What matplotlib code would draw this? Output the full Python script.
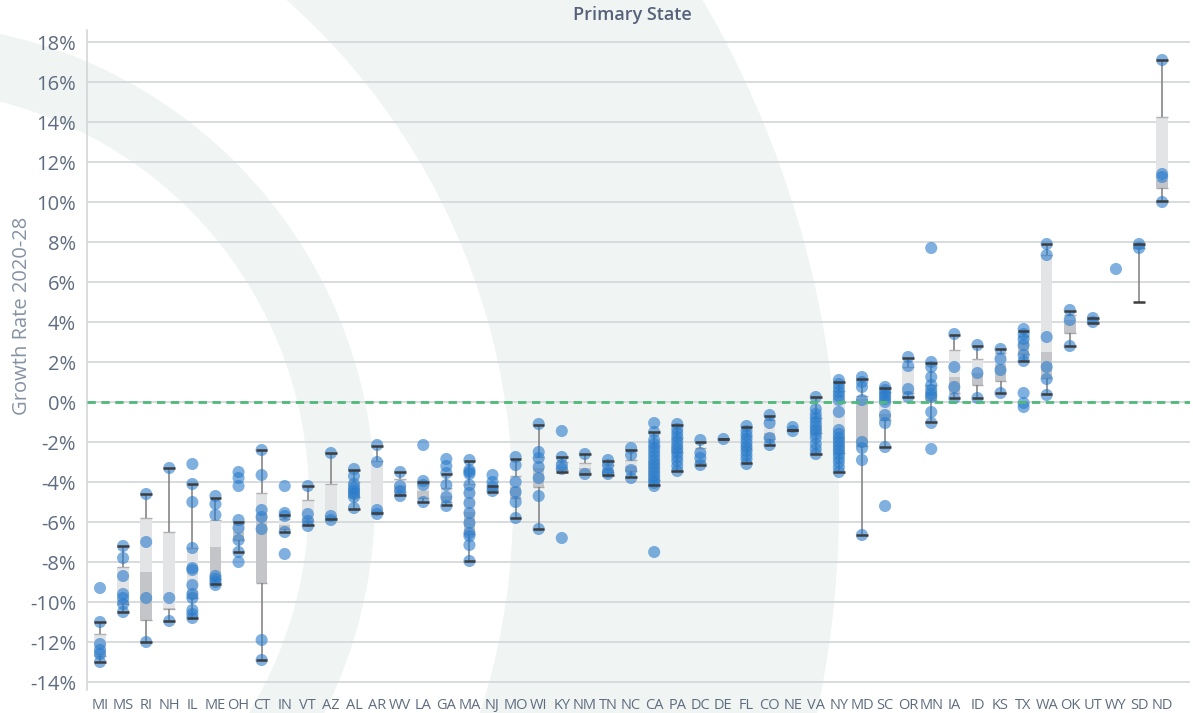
import numpy as np
import matplotlib
matplotlib.use("Agg")
import matplotlib.pyplot as plt
from matplotlib.patches import Wedge
from matplotlib.transforms import IdentityTransform
from matplotlib.ticker import FuncFormatter

plt.rcParams['font.family'] = ['Open Sans', 'DejaVu Sans']

states = ["MI", "MS", "RI", "NH", "IL", "ME", "OH", "CT", "IN", "VT", "AZ", "AL", "AR", "WV",
          "LA", "GA", "MA", "NJ", "MO", "WI", "KY", "NM", "TN", "NC", "CA", "PA", "DC", "DE",
          "FL", "CO", "NE", "VA", "NY", "MD", "SC", "OR", "MN", "IA", "ID", "KS", "TX", "WA",
          "OK", "UT", "WY", "SD", "ND"]

# individual growth-rate observations (%) per state
points = [
    [-9.3, -11.0, -12.1, -12.4, -12.6, -13.0],                      # MI
    [-7.2, -7.8, -8.7, -9.6, -9.8, -10.1, -10.5],                   # MS
    [-4.6, -7.0, -9.8, -12.0],                                      # RI
    [-3.3, -9.8, -10.95],                                           # NH
    [-3.1, -4.1, -5.0, -7.3, -8.3, -8.4, -9.15, -9.6, -9.8, -10.4, -10.6, -10.8],  # IL
    [-4.7, -5.1, -5.65, -8.7, -8.85, -9.0, -9.15],                  # ME
    [-3.5, -3.8, -4.2, -5.9, -6.3, -6.9, -7.5, -8.0],               # OH
    [-2.4, -3.65, -5.4, -5.75, -6.35, -11.9, -12.9],                # CT
    [-4.2, -5.55, -5.7, -6.5, -7.6],                                # IN
    [-4.2, -5.6, -5.95, -6.2],                                      # VT
    [-2.55, -5.7, -5.9],                                            # AZ
    [-3.35, -3.7, -4.1, -4.3, -4.45, -4.6, -4.75, -5.3],            # AL
    [-2.15, -3.0, -5.4, -5.6],                                      # AR
    [-3.5, -4.2, -4.45, -4.7],                                      # WV
    [-2.15, -3.95, -4.15, -5.0],                                    # LA
    [-2.85, -3.2, -3.55, -4.15, -4.75, -5.2],                       # GA
    [-2.9, -3.4, -3.5, -3.6, -4.15, -4.55, -5.05, -5.55, -6.05, -6.55, -6.7, -7.15, -7.95],  # MA
    [-3.65, -4.0, -4.25, -4.45],                                    # NJ
    [-2.75, -3.15, -4.0, -4.5, -5.0, -5.8],                         # MO
    [-1.1, -2.5, -2.8, -3.25, -3.8, -4.7, -6.35],                   # WI
    [-1.45, -2.75, -3.15, -3.35, -6.8],                             # KY
    [-2.6, -3.6],                                                   # NM
    [-2.9, -3.15, -3.5, -3.6],                                      # TN
    [-2.3, -2.65, -3.4, -3.8],                                      # NC
    [-1.05, -1.5, -1.9, -2.1, -2.3, -2.5, -2.7, -2.9, -3.1, -3.3, -3.5, -3.7, -3.9, -4.05, -4.2, -7.5],  # CA
    [-1.1, -1.35, -1.55, -1.75, -1.95, -2.15, -2.35, -2.55, -2.75, -2.95, -3.2, -3.45],  # PA
    [-1.9, -2.55, -2.8, -3.15],                                     # DC
    [-1.85],                                                        # DE
    [-1.2, -1.45, -1.65, -1.85, -2.05, -2.25, -2.45, -2.65, -2.85, -3.1],  # FL
    [-0.65, -1.05, -1.8, -2.15],                                    # CO
    [-1.25, -1.45],                                                 # NE
    [0.25, -0.35, -0.6, -0.8, -1.0, -1.2, -1.4, -1.6, -1.8, -2.1, -2.35, -2.6],  # VA
    [1.1, 0.9, 0.7, 0.5, 0.3, 0.1, -0.5, -1.4, -1.6, -1.8, -2.0, -2.2, -2.4, -2.6, -2.8, -3.0, -3.25, -3.5],  # NY
    [1.25, 1.0, 0.75, 0.1, -2.0, -2.3, -2.9, -6.65],                # MD
    [0.75, 0.6, 0.45, 0.3, 0.15, 0.0, -0.65, -1.05, -2.25, -5.2],   # SC
    [2.25, 1.8, 0.65, 0.25],                                        # OR
    [7.7, 2.0, 1.75, 1.25, 0.85, 0.6, 0.4, 0.25, -0.5, -1.05, -2.35],  # MN
    [3.4, 1.75, 0.75, 0.2],                                         # IA
    [2.85, 1.45, 0.2],                                              # ID
    [2.65, 2.15, 1.6, 0.45],                                        # KS
    [3.65, 3.4, 3.15, 2.85, 2.35, 2.05, 0.45, -0.05, -0.25],        # TX
    [7.9, 7.35, 3.25, 1.75, 1.15, 0.35],                            # WA
    [4.6, 4.1, 2.8],                                                # OK
    [4.2, 4.0],                                                     # UT
    [6.65],                                                         # WY
    [7.9, 7.7],                                                     # SD
    [17.1, 11.4, 11.25, 10.0],                                      # ND
]

# box-plot statistics (%) as drawn in the reference
whis_lo = [-13.0, -10.5, -12.0, -10.95, -10.8, -9.1, -7.48, -12.9, -6.5, -6.15, -5.85, -5.35, -5.55, -4.65,
           -5.0, -5.15, -7.95, -4.5, -5.78, -6.37, -3.48, -3.6, -3.65, -3.77, -4.15, -3.43, -3.15, -1.87,
           -3.05, -2.15, -1.4, -2.6, -3.5, -6.65, -2.25, 0.23, -1.02, 0.18, 0.18, 0.47, 2.07, 0.4,
           2.8, 3.95, np.nan, 5.0, 10.05]
q1 = [-12.7, -10.1, -10.9, -10.35, -9.8, -8.85, -6.9, -9.07, -6.35, -5.95, -5.8, -4.75, -5.5, -4.5,
      -4.8, -5.0, -6.6, -4.42, -4.8, -4.23, -3.4, -3.55, -3.5, -3.45, -3.9, -2.5, -3.05, -1.87,
      -2.35, -1.85, -1.4, -1.57, -2.55, -2.2, -0.9, 0.45, 0.1, 0.47, 0.85, 1.07, 2.4, 1.18,
      3.43, 4.0, np.nan, 7.7, 10.7]
median = [-12.6, -9.9, -8.5, -10.3, -9.45, -7.23, -6.5, -5.6, -6.15, -5.8, -5.7, -4.3, -5.45, -4.2,
          -4.45, -4.7, -5.5, -4.35, -4.23, -3.3, -3.25, -3.3, -3.35, -3.2, -2.95, -2.2, -2.9, -1.87,
          -2.1, -1.55, -1.4, -1.2, -1.7, 0.15, -0.6, 0.55, 0.5, 1.23, 1.45, 1.9, 2.95, 2.48,
          4.1, 4.05, np.nan, 7.8, 11.1]
q3 = [-11.6, -8.27, -5.8, -6.5, -7.3, -5.9, -6.1, -4.53, -5.85, -4.9, -4.1, -4.0, -2.93, -3.85,
      -4.1, -4.3, -4.12, -4.28, -3.7, -2.73, -3.0, -3.07, -3.15, -2.9, -2.2, -1.8, -2.3, -1.87,
      -1.7, -0.9, -1.4, -0.8, 0.55, 0.3, 0.5, 1.77, 0.85, 2.6, 2.15, 2.45, 3.3, 7.35,
      4.35, 4.15, np.nan, 7.85, 14.25]
whis_hi = [-11.0, -7.2, -4.6, -3.3, -4.1, -4.8, -5.98, -2.4, -5.65, -4.18, -2.57, -3.4, -2.2, -3.5,
           -4.0, -3.6, -2.95, -4.2, -2.87, -1.15, -2.75, -2.6, -2.93, -2.4, -1.5, -1.15, -1.98, -1.87,
           -1.27, -0.7, -1.4, 0.23, 0.98, 1.13, 0.7, 2.2, 1.93, 3.35, 2.8, 2.63, 3.55, 7.9,
           4.57, 4.2, np.nan, 7.9, 17.1]

yticks = list(range(-14, 19, 2))

W, H = 1193, 713
fig = plt.figure(figsize=(W / 100, H / 100), dpi=100)
fig.patch.set_facecolor('white')

# decorative background arcs (pixel coordinates, origin bottom-left)
band_color = '#f0f4f3'
for (cx, cy_top, r_out, r_in) in [(-101, 499, 476, 410), (-161, 504, 1000, 674)]:
    wdg = Wedge((cx, H - cy_top), r_out, 0, 360, width=r_out - r_in,
                transform=IdentityTransform(), facecolor=band_color, edgecolor='none', zorder=-5)
    fig.add_artist(wdg)

ax_left, ax_right, ax_top, ax_bot = 87, 1190, 30, 690
ax = fig.add_axes([ax_left / W, 1 - ax_bot / H, (ax_right - ax_left) / W, (ax_bot - ax_top) / H])
ax.set_facecolor('none')

x = np.arange(len(states))
ax.set_xlim((87 - 100) / 23.09, (1190 - 100) / 23.09)
ax.set_ylim((402 - 690) / 20, (402 - 30) / 20)

# grid
for yv in yticks:
    ax.axhline(yv, color='#d6d9dc', lw=1.3, zorder=0)

bw = 0.5
q1a, meda, q3a = np.array(q1), np.array(median), np.array(q3)
lo, hi = np.array(whis_lo), np.array(whis_hi)
valid = ~np.isnan(meda)

# boxes: upper part (median..q3) light, lower part (q1..median) darker
ax.bar(x[valid], (q3a - meda)[valid], bottom=meda[valid], width=bw, color='#e3e4e6', zorder=1.5)
ax.bar(x[valid], (meda - q1a)[valid], bottom=q1a[valid], width=bw, color='#c3c5c8', zorder=1.5)
ax.hlines(q3a[valid], x[valid] - bw / 2, x[valid] + bw / 2, color='#b0b2b5', lw=1.0, zorder=1.6)
ax.hlines(q1a[valid], x[valid] - bw / 2, x[valid] + bw / 2, color='#a8aaad', lw=1.0, zorder=1.6)

# whiskers
ax.vlines(x[valid], hi[valid], q3a[valid], color='#7c7c7c', lw=1.1, zorder=2)
ax.vlines(x[valid], q1a[valid], lo[valid], color='#7c7c7c', lw=1.1, zorder=2)

# points
px = np.concatenate([np.full(len(p), i) for i, p in enumerate(points)])
py = np.concatenate([np.array(p, dtype=float) for p in points])
ax.scatter(px, py, s=76, color='#2a7ccc', alpha=0.6, edgecolors='none', zorder=3)

# caps
ax.hlines(hi[valid], x[valid] - bw / 2, x[valid] + bw / 2, color='#3d3d3d', lw=1.8, zorder=4)
ax.hlines(lo[valid], x[valid] - bw / 2, x[valid] + bw / 2, color='#3d3d3d', lw=1.8, zorder=4)

# zero reference line
ax.axhline(0, color='#4fb97a', lw=2.0, ls=(0, (3, 2)), zorder=5)

ax.set_xticks(x)
ax.set_xticklabels(states)
ax.set_yticks(yticks)
ax.yaxis.set_major_formatter(FuncFormatter(lambda v, p: f"{int(round(v))}%"))
ax.tick_params(axis='y', length=0, pad=8, labelsize=14.5, labelcolor='#5f6d80')
ax.tick_params(axis='x', length=0, pad=6, labelsize=10.5, labelcolor='#5f6d80')

for s in ['top', 'right', 'bottom']:
    ax.spines[s].set_visible(False)
ax.spines['left'].set_color('#d3d6d9')
ax.spines['left'].set_linewidth(1.2)

fig.text(632 / W, 1 - 15 / H, 'Primary State', ha='center', va='center',
         fontsize=13, fontweight='semibold', color='#56627a')
fig.text(22 / W, 1 - 316 / H, 'Growth Rate 2020-28', ha='center', va='center', rotation=90,
         fontsize=14.5, color='#8592a3')

fig.savefig('out.png', dpi=100, facecolor='white')
